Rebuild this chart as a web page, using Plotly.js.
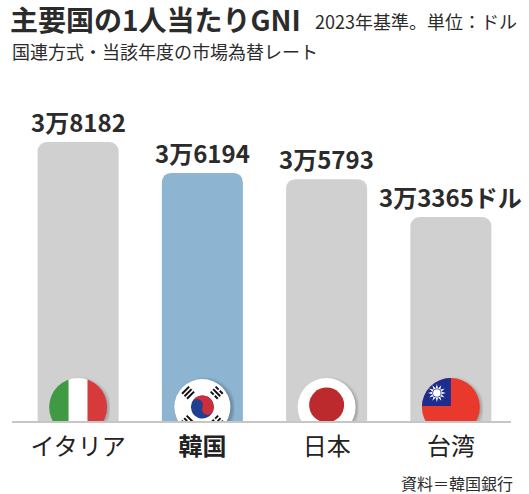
<!DOCTYPE html>
<html><head><meta charset="utf-8">
<script src="https://cdn.plot.ly/plotly-3.0.1.min.js"></script>
<style>html,body{margin:0;padding:0;background:#fff;overflow:hidden}</style>
</head><body><div id="chart" style="width:529px;height:494px"></div>
<script>
const countries = ['イタリア', '韓国', '日本', '台湾'];
const tickLabels = ['イタリア', '<b>韓国</b>', '日本', '台湾'];
const gniValues = [38182, 36194, 35793, 33365];
const valueLabels = ['3万8182', '3万6194', '3万5793', '3万3365ドル'];
const barColors = ['#d0d0d0', '#8db4d0', '#d0d0d0', '#d0d0d0'];

const FONT = '"Noto Sans CJK JP", "Noto Sans", sans-serif';
const L = 16, R = 513, T = 100, B = 422;
const px2x = p => (p - L) / (R - L);
const py2y = p => (B - p) / (B - T);

function shadowDefs() {
  return '<defs><filter id="f" x="-30%" y="-30%" width="160%" height="160%"><feGaussianBlur stdDeviation="1.6"/></filter>' +
    '<clipPath id="c"><circle cx="32" cy="31" r="29"/></clipPath></defs>' +
    '<circle cx="34.5" cy="32" r="29" fill="#000" opacity="0.22" filter="url(#f)"/>';
}
function wrap(inner) {
  return 'data:image/svg+xml;charset=utf-8,' + encodeURIComponent(
    '<svg xmlns="http://www.w3.org/2000/svg" width="64" height="46" viewBox="0 0 64 46">' + inner + '</svg>');
}
const italy = wrap(shadowDefs() +
  '<g clip-path="url(#c)"><rect x="0" y="0" width="22.5" height="46" fill="#3f9a43"/>' +
  '<rect x="22.5" y="0" width="19" height="46" fill="#ffffff"/>' +
  '<rect x="41.5" y="0" width="30" height="46" fill="#d63a3a"/></g>');

function trigram(cx, cy, rot, pattern) {
  let s = '<g transform="translate(' + cx + ',' + cy + ') rotate(' + rot + ')">';
  const w = 10, h = 2, gap = 1.5;
  for (let i = 0; i < 3; i++) {
    const y = -4.25 + i * (h + gap) - h / 2 + 1;
    if (pattern[i] === 1) s += '<rect x="' + (-w / 2) + '" y="' + y + '" width="' + w + '" height="' + h + '" fill="#111"/>';
    else {
      s += '<rect x="' + (-w / 2) + '" y="' + y + '" width="' + (w / 2 - 0.8) + '" height="' + h + '" fill="#111"/>';
      s += '<rect x="0.8" y="' + y + '" width="' + (w / 2 - 0.8) + '" height="' + h + '" fill="#111"/>';
    }
  }
  return s + '</g>';
}
const kr = 11.5;
const korea = wrap(shadowDefs() +
  '<circle cx="32" cy="31" r="28" fill="#ffffff"/>' +
  '<g transform="translate(32,31) rotate(22)">' +
  '<circle r="' + kr + '" fill="#1f3f90"/>' +
  '<path d="M ' + (-kr) + ' 0 A ' + kr + ' ' + kr + ' 0 0 1 ' + kr + ' 0 A ' + (kr / 2) + ' ' + (kr / 2) + ' 0 0 1 0 0 A ' + (kr / 2) + ' ' + (kr / 2) + ' 0 0 0 ' + (-kr) + ' 0 Z" fill="#cd2e3a"/></g>' +
  trigram(32 - 14.5, 31 - 14.5, -45, [1, 1, 1]) +
  trigram(32 + 14.5, 31 - 14.5, 45, [0, 1, 0]) +
  trigram(32 - 14.5, 31 + 14.5, 45, [1, 0, 1]) +
  trigram(32 + 14.5, 31 + 14.5, -45, [0, 0, 0]));

const japan = wrap(shadowDefs() +
  '<circle cx="32" cy="31" r="29" fill="#ffffff"/>' +
  '<circle cx="32" cy="29" r="17.5" fill="#bd2a2e"/>');

function sunPoly(cx, cy, r1, r2, n) {
  const pts = [];
  for (let i = 0; i < 2 * n; i++) {
    const a = Math.PI * i / n - Math.PI / 2;
    const r = i % 2 === 0 ? r1 : r2;
    pts.push((cx + r * Math.cos(a)).toFixed(2) + ',' + (cy + r * Math.sin(a)).toFixed(2));
  }
  return pts.join(' ');
}
const taiwan = wrap(shadowDefs() +
  '<g clip-path="url(#c)"><rect x="0" y="0" width="64" height="46" fill="#e8392c"/>' +
  '<rect x="0" y="0" width="32" height="30" fill="#1d2c8f"/>' +
  '<polygon points="' + sunPoly(18, 17, 9, 4.6, 12) + '" fill="#fff"/>' +
  '<circle cx="18" cy="17" r="4.6" fill="#1d2c8f"/><circle cx="18" cy="17" r="3.8" fill="#fff"/></g>');

const flags = [italy, korea, japan, taiwan];

const trace = {
  type: 'bar',
  x: countries,
  y: gniValues,
  marker: { color: barColors, cornerradius: 9, line: { width: 0 } },
  hoverinfo: 'none'
};

const annotations = countries.map((c, i) => ({
  x: c, y: gniValues[i], xref: 'x', yref: 'y',
  text: '<b>' + valueLabels[i] + '</b>', showarrow: false,
  yanchor: 'bottom', yshift: 1,
  font: { family: FONT, size: 24, color: '#2b2b2b' }
}));
annotations.push(
  { xref: 'paper', yref: 'paper', x: px2x(8), y: py2y(19), xanchor: 'left', yanchor: 'middle',
    text: '<b>主要国の1人当たりGNI</b>', showarrow: false,
    font: { family: FONT, size: 28, color: '#2b2b2b' } },
  { xref: 'paper', yref: 'paper', x: px2x(313), y: py2y(21), xanchor: 'left', yanchor: 'middle',
    text: '2023年基準。単位：ドル', showarrow: false,
    font: { family: FONT, size: 18, color: '#2b2b2b' } },
  { xref: 'paper', yref: 'paper', x: px2x(10), y: py2y(51), xanchor: 'left', yanchor: 'middle',
    text: '国連方式・当該年度の市場為替レート', showarrow: false,
    font: { family: FONT, size: 18, color: '#2b2b2b' } },
  { xref: 'paper', yref: 'paper', x: px2x(515), y: py2y(483), xanchor: 'right', yanchor: 'middle',
    text: '資料＝韓国銀行', showarrow: false,
    font: { family: FONT, size: 16, color: '#2b2b2b' } }
);

const images = flags.map((src, i) => ({
  source: src, xref: 'x', yref: 'paper', x: i, y: 0,
  xanchor: 'center', yanchor: 'bottom',
  sizex: 64 / 124.25, sizey: 46 / 322, sizing: 'stretch', layer: 'above'
}));

const layout = {
  width: 529, height: 494, autosize: false,
  margin: { l: L, r: 529 - R, t: T, b: 494 - B, autoexpand: false },
  paper_bgcolor: '#ffffff', plot_bgcolor: '#ffffff',
  showlegend: false,
  bargap: 0.348,
  xaxis: {
    type: 'category', tickvals: countries, ticktext: tickLabels,
    range: [-0.5, 3.5], autorange: false,
    showgrid: false, zeroline: false, showline: false, ticks: '',
    ticklabelstandoff: 8, automargin: false,
    tickfont: { family: FONT, size: 24, color: '#222' }, fixedrange: true
  },
  yaxis: { range: [20200, 40880], autorange: false, visible: false, fixedrange: true, automargin: false },
  shapes: [{ type: 'line', xref: 'paper', yref: 'paper', x0: px2x(12), x1: px2x(511), y0: 0, y1: 0,
    line: { color: '#c6c6c6', width: 2 }, layer: 'above' }],
  annotations: annotations,
  images: images
};

Plotly.newPlot('chart', [trace], layout, { displayModeBar: false, staticPlot: true });
</script></body></html>
